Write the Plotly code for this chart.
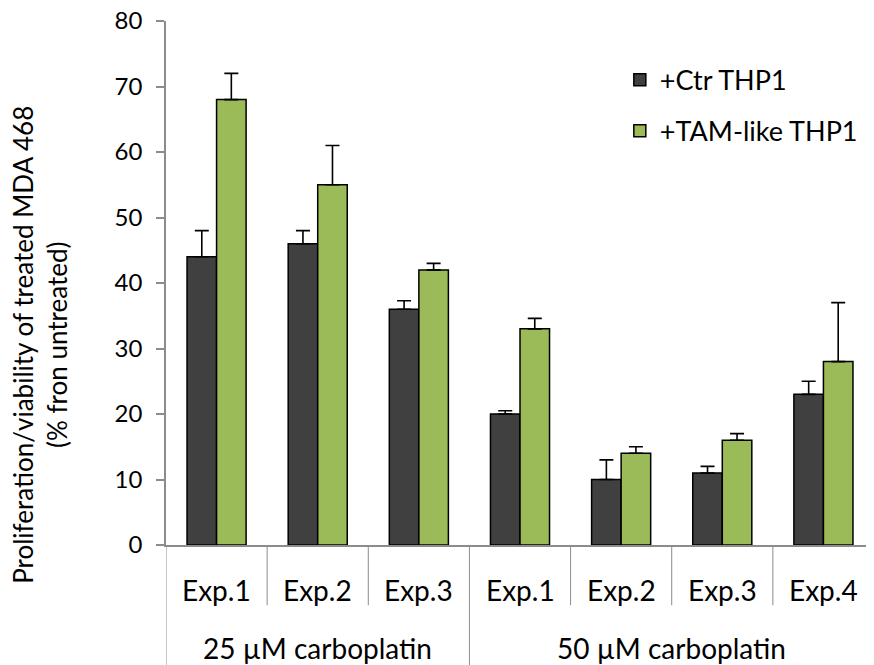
import plotly.graph_objects as go

# ---- data ----
groups = ["25 µM carboplatin", "50 µM carboplatin"]
group_sizes = [3, 4]
experiments = ["Exp.1", "Exp.2", "Exp.3", "Exp.1", "Exp.2", "Exp.3", "Exp.4"]
series_names = ["+Ctr THP1", "+TAM-like THP1"]
ctr_values = [44, 46, 36, 20, 10, 11, 23]
ctr_errors = [4, 2, 1.3, 0.5, 3, 1, 2]
tam_values = [68, 55, 42, 33, 14, 16, 28]
tam_errors = [4, 6, 1, 1.6, 1, 1, 9]
y_ticks = [0, 10, 20, 30, 40, 50, 60, 70, 80]
y_title_lines = ["Proliferation/viability of treated MDA 468", "(% fron untreated)"]

FONT = "Lato"
DARK = "#404040"
GREEN = "#9BBB59"
AXIS_GRAY = "#8C8C8C"

xpos = list(range(len(experiments)))

fig = go.Figure()
for name, vals, errs, col, grp in [
    (series_names[0], ctr_values, ctr_errors, DARK, "a"),
    (series_names[1], tam_values, tam_errors, GREEN, "b"),
]:
    fig.add_trace(go.Bar(
        x=xpos, y=vals, name=name, legendgroup=grp,
        marker=dict(color=col, line=dict(color="black", width=1.5)),
        error_y=dict(type="data", symmetric=False, array=errs,
                     arrayminus=[0] * len(errs), color="black",
                     thickness=1.6, width=7),
    ))

shapes = []
start = 0
bounds_outer = [-0.5]
for gs in group_sizes:
    for k in range(1, gs):
        b = start + k - 0.5
        shapes.append(dict(type="line", xref="x", yref="paper", x0=b, x1=b,
                           y0=0, y1=-0.115, line=dict(color=AXIS_GRAY, width=1)))
    start += gs
    bounds_outer.append(start - 0.5)
for b in bounds_outer:
    shapes.append(dict(type="line", xref="x", yref="paper", x0=b, x1=b,
                       y0=0, y1=-0.25, line=dict(color=AXIS_GRAY, width=1)))

annotations = []
for i, lab in enumerate(experiments):
    annotations.append(dict(x=i, y=-0.0859, xref="x", yref="paper", text=lab,
                            showarrow=False, xanchor="center", yanchor="middle",
                            font=dict(family=FONT, size=28, color="black")))
start = 0
for g, gs in zip(groups, group_sizes):
    c = start + (gs - 1) / 2
    annotations.append(dict(x=c, y=-0.1966, xref="x", yref="paper", text=g,
                            showarrow=False, xanchor="center", yanchor="middle",
                            font=dict(family=FONT, size=28, color="black")))
    start += gs
annotations.append(dict(x=-0.178, y=0.382, xref="paper", yref="paper",
                        text="<br>".join(y_title_lines), textangle=-90,
                        showarrow=False, xanchor="center", yanchor="middle",
                        font=dict(family=FONT, size=26, color="black")))

fig.update_layout(
    width=874, height=665,
    margin=dict(l=158, r=8, t=13, b=128, pad=0, autoexpand=False),
    paper_bgcolor="white", plot_bgcolor="white",
    barmode="group", bargap=0.416, bargroupgap=0,
    font=dict(family=FONT, size=24, color="black"),
    showlegend=True,
    legend=dict(x=0.641, y=0.934, xanchor="left", yanchor="top",
                font=dict(family=FONT, size=27, color="black"),
                traceorder="grouped", tracegroupgap=13,
                bgcolor="rgba(0,0,0,0)", itemwidth=30),
    xaxis=dict(range=[-0.5, 6.5], showticklabels=False, ticks="",
               showgrid=False, zeroline=False, showline=True, automargin=False,
               linecolor=AXIS_GRAY, linewidth=1.5),
    yaxis=dict(range=[0, 80], tickvals=y_ticks, ticks="outside", ticklen=8,
               tickcolor=AXIS_GRAY, tickwidth=1.5, showgrid=False,
               zeroline=False, showline=True, linecolor=AXIS_GRAY,
               linewidth=1.5, ticklabelstandoff=9, ticklabeloverflow="allow",
               automargin=False,
               tickfont=dict(family=FONT, size=24, color="black")),
    shapes=shapes, annotations=annotations,
)

fig.write_html("out.html")
